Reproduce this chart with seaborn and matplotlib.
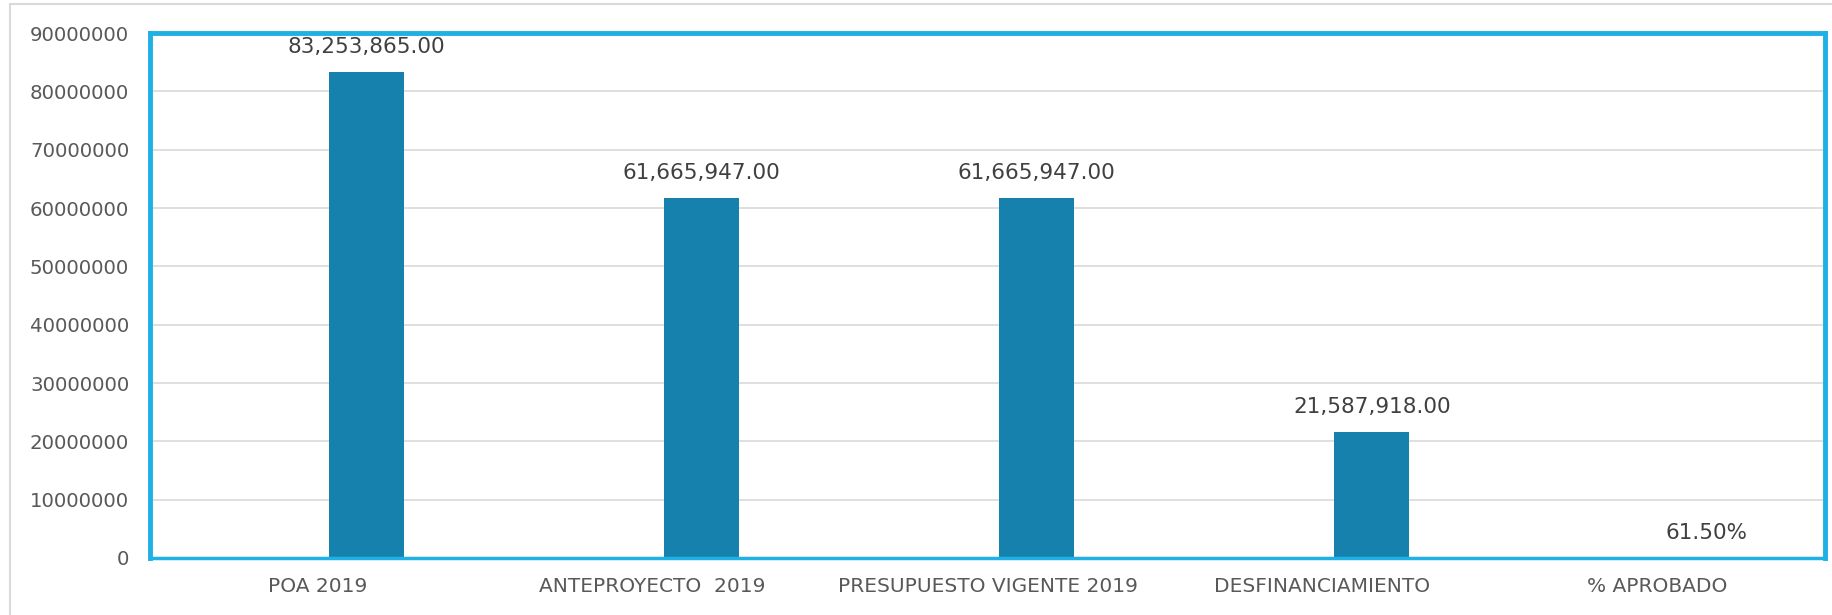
import matplotlib
matplotlib.use("Agg")
import matplotlib.pyplot as plt
from matplotlib import ticker
from matplotlib.patches import Rectangle
import pandas as pd
import seaborn as sns

# datos del grafico
categorias = ["POA 2019", "ANTEPROYECTO  2019", "PRESUPUESTO VIGENTE 2019",
              "DESFINANCIAMIENTO", "% APROBADO"]
serie_vacia = [0, 0, 0, 0, 0]
montos = [83253865.00, 61665947.00, 61665947.00, 21587918.00, 0.615]
etiquetas = ["83,253,865.00", "61,665,947.00", "61,665,947.00",
             "21,587,918.00", "61.50%"]
y_ticks = [0, 10000000, 20000000, 30000000, 40000000, 50000000,
           60000000, 70000000, 80000000, 90000000]

df = pd.DataFrame({
    "categoria": categorias * 2,
    "serie": ["Serie 1"] * len(categorias) + ["Serie 2"] * len(categorias),
    "valor": serie_vacia + montos,
})

sns.set_style("white")
plt.rcParams["font.family"] = ["DejaVu Sans"]

fig = plt.figure(figsize=(18.32, 6.15), dpi=100)
ax = fig.add_axes([0.0819, 0.0927, 0.9143, 0.8536])

sns.barplot(data=df, x="categoria", y="valor", hue="serie",
            hue_order=["Serie 1", "Serie 2"], order=categorias,
            palette={"Serie 1": "white", "Serie 2": "#1681AD"},
            width=0.588, gap=0.24, linewidth=0, saturation=1,
            legend=False, errorbar=None, ax=ax)

ax.bar_label(ax.containers[1], labels=etiquetas, padding=11,
             fontsize=15.5, color="#404040")

ax.set_ylim(0, 90000000)
ax.set_yticks(y_ticks)
ax.yaxis.set_major_formatter(ticker.StrMethodFormatter("{x:.0f}"))
ax.grid(axis="y", color="#D9D9D9", linewidth=1.2)
ax.set_axisbelow(True)
ax.set_xlabel("")
ax.set_ylabel("")
ax.tick_params(axis="y", length=0, pad=15, labelsize=14.2, labelcolor="#595959")
ax.tick_params(axis="x", length=0, pad=14, labelsize=14.5, labelcolor="#595959")

for lado in ["top", "bottom", "left", "right"]:
    ax.spines[lado].set_visible(True)
    ax.spines[lado].set_color("#1FB0E6")
    ax.spines[lado].set_linewidth(3.5)
ax.spines["bottom"].set_linewidth(2.5)

# marco gris del area del grafico
fig.add_artist(Rectangle((10 / 1832, -0.1), 1.2, 1 - 4 / 615 + 0.1,
                         transform=fig.transFigure, fill=False,
                         edgecolor="#D9D9D9", linewidth=1.5))

fig.savefig("out.png", dpi=100)
